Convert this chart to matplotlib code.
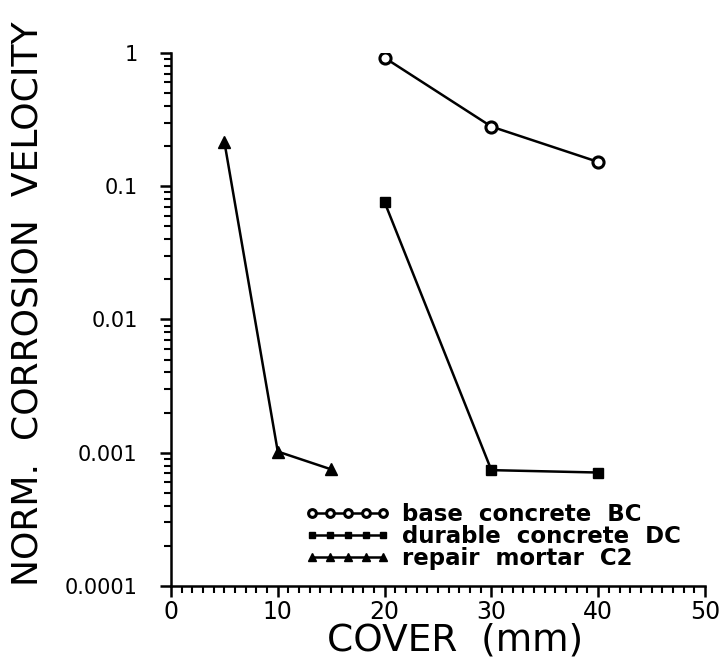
import matplotlib.pyplot as plt
from matplotlib.ticker import MultipleLocator, LogLocator, FixedFormatter, FixedLocator

plt.rcParams['font.family'] = ['DejaVu Sans']

cover_bc = [20, 30, 40]
vel_bc = [0.92, 0.28, 0.152]

cover_dc = [20, 30, 40]
vel_dc = [0.076, 0.00074, 0.00071]

cover_c2 = [5, 10, 15]
vel_c2 = [0.215, 0.00102, 0.00075]

y_ticks = [0.0001, 0.001, 0.01, 0.1, 1]
y_labels = ['0.0001', '0.001', '0.01', '0.1', '1']
x_ticks = [0, 10, 20, 30, 40, 50]


def main():
    fig = plt.figure(figsize=(7.26, 6.68), dpi=100)
    ax = fig.add_axes([0.2355, 0.1228, 0.7355, 0.798])

    ax.plot(cover_bc, vel_bc, color='black', lw=1.8, marker='o', ms=8,
            mfc='white', mec='black', mew=2.2, label='base  concrete  BC')
    ax.plot(cover_dc, vel_dc, color='black', lw=1.8, marker='s', ms=7,
            mfc='black', mec='black', label='durable  concrete  DC')
    ax.plot(cover_c2, vel_c2, color='black', lw=1.8, marker='^', ms=8,
            mfc='black', mec='black', label='repair  mortar  C2')

    ax.set_yscale('log')
    ax.set_xlim(0, 50)
    ax.set_ylim(0.0001, 1)

    ax.spines['top'].set_visible(False)
    ax.spines['right'].set_visible(False)
    ax.spines['left'].set_linewidth(1.8)
    ax.spines['bottom'].set_linewidth(1.8)

    ax.xaxis.set_major_locator(FixedLocator(x_ticks))
    ax.xaxis.set_minor_locator(MultipleLocator(1))
    ax.yaxis.set_major_locator(FixedLocator(y_ticks))
    ax.yaxis.set_major_formatter(FixedFormatter(y_labels))
    ax.yaxis.set_minor_locator(LogLocator(base=10, subs=range(2, 10)))

    ax.tick_params(which='major', direction='out', length=8, width=1.8)
    ax.tick_params(which='minor', direction='out', length=5, width=1.5)
    ax.tick_params(axis='x', which='major', labelsize=17, pad=2)
    ax.tick_params(axis='y', which='major', labelsize=15, pad=16)

    ax.set_xlabel('COVER  (mm)', fontsize=27)
    ax.xaxis.set_label_coords(0.532, -0.068)
    ax.set_ylabel('NORM.  CORROSION  VELOCITY', fontsize=26)
    ax.yaxis.set_label_coords(-0.236, 0.53)

    ax.legend(loc='lower left', bbox_to_anchor=(0.222, 0.0),
              frameon=False, numpoints=5, handlelength=3.7,
              handletextpad=0.5, labelspacing=-0.05, markerscale=0.7,
              borderpad=0.2, prop={'size': 16.5, 'weight': 'bold'})

    fig.savefig('out.png', dpi=100)


if __name__ == '__main__':
    main()
